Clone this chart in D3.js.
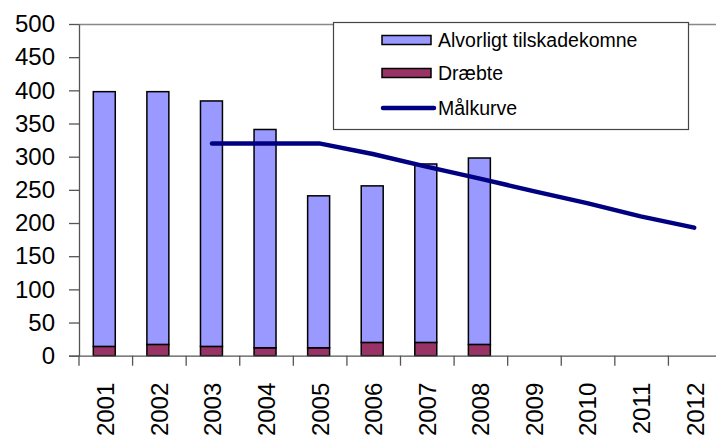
<!DOCTYPE html>
<html>
<head>
<meta charset="utf-8">
<script src="https://cdn.jsdelivr.net/npm/d3@7"></script>
<style>
  body { margin: 0; background: #fff; }
  svg { font-family: "Liberation Sans", Arial, sans-serif; }
</style>
</head>
<body>
<div class="container"></div>
<script>
const years = ["2001", "2002", "2003", "2004", "2005", "2006", "2007", "2008", "2009", "2010", "2011", "2012"];
const killed = [14, 17, 14, 12, 12, 20, 20, 17];
const injured = [384, 381, 370, 329, 229, 236, 269, 281];
const targetYears = ["2003", "2004", "2005", "2006", "2007", "2008", "2009", "2010", "2011", "2012"];
const target = [320, 320, 320, 304, 285, 267, 248, 230, 210, 193];
const yTicks = [0, 50, 100, 150, 200, 250, 300, 350, 400, 450, 500];
const seriesNames = ["Alvorligt tilskadekomne", "Dræbte", "Målkurve"];

const width = 716;
const height = 437;
const margin = { top: 24, left: 79 };
const innerWidth = 643;
const innerHeight = 331.7;

let svg = d3.select(".container").append("svg")
  .attr("width", width).attr("height", height);

let g = svg.append("g")
  .attr("transform", `translate(${margin.left}, ${margin.top})`);

// Scales
let xScale = d3.scaleBand(years, [0, innerWidth]);
let yScale = d3.scaleLinear([0, 500], [innerHeight, 0]);

const barW = xScale.bandwidth() * 0.41;
const barX = (y) => xScale(y) + xScale.bandwidth() / 2 - barW / 2 - 1.5;

// plot frame (top edge)
g.append("line")
  .attr("x1", 0).attr("x2", innerWidth + 10)
  .attr("y1", 0.5).attr("y2", 0.5)
  .attr("stroke", "#888").attr("stroke-width", 1.3);

// Bars: killed on the bottom, seriously injured on top
let rows = killed.map((k, i) => ({ year: years[i], killed: k, injured: injured[i] }));

g.selectAll(".killed")
  .data(rows).enter().append("rect")
  .attr("x", (d) => barX(d.year))
  .attr("width", barW)
  .attr("y", (d) => yScale(d.killed))
  .attr("height", (d) => yScale(0) - yScale(d.killed))
  .attr("fill", "#993366")
  .attr("stroke", "black").attr("stroke-width", 1.5);

g.selectAll(".injured")
  .data(rows).enter().append("rect")
  .attr("x", (d) => barX(d.year))
  .attr("width", barW)
  .attr("y", (d) => yScale(d.killed + d.injured))
  .attr("height", (d) => yScale(d.killed) - yScale(d.killed + d.injured))
  .attr("fill", "#9999FF")
  .attr("stroke", "black").attr("stroke-width", 1.5);

// Target line
let line = d3.line()
  .x((d, i) => xScale(targetYears[i]) + xScale.bandwidth() / 2 - 1)
  .y((d) => yScale(d));

g.append("path")
  .datum(target)
  .attr("d", line)
  .attr("fill", "none")
  .attr("stroke", "#000080")
  .attr("stroke-width", 4.5)
  .attr("stroke-linecap", "round")
  .attr("stroke-linejoin", "round");

// Axes
let yAxis = d3.axisLeft(yScale).tickValues(yTicks).tickSize(10).tickPadding(14).tickSizeOuter(0);
let yG = g.append("g").call(yAxis);
yG.selectAll("text").attr("font-size", 24).attr("fill", "#000").attr("font-family", "Liberation Sans, Arial, sans-serif");
yG.selectAll("line, path").attr("stroke", "#555").attr("stroke-width", 1.3);

let xAxis = d3.axisBottom(xScale).tickSize(0).tickSizeOuter(0).tickPadding(0);
let xG = g.append("g").attr("transform", `translate(0, ${innerHeight})`).call(xAxis);
xG.select("path").attr("stroke", "#555").attr("stroke-width", 1.3)
  .attr("d", `M-10,0.5H${innerWidth + 10}`);
xG.selectAll("text")
  .attr("font-size", 24).attr("fill", "#000")
  .attr("font-family", "Liberation Sans, Arial, sans-serif")
  .attr("text-anchor", "end")
  .attr("transform", "translate(0, 27) rotate(-90)")
  .attr("x", 0).attr("y", 0).attr("dy", "0.35em");

// category boundary ticks
g.append("g").selectAll("line")
  .data(years).enter().append("line")
  .attr("x1", (d) => xScale(d)).attr("x2", (d) => xScale(d))
  .attr("y1", innerHeight).attr("y2", innerHeight + 10)
  .attr("stroke", "#555").attr("stroke-width", 1.3);

// Legend
let legend = svg.append("g").attr("transform", "translate(333, 22)");
legend.append("rect")
  .attr("x", 0.5).attr("y", 0.5).attr("width", 355).attr("height", 107)
  .attr("fill", "white").attr("stroke", "#444").attr("stroke-width", 1.2);

const legendRows = [18, 51, 86];
const fills = ["#9999FF", "#993366"];
seriesNames.forEach((name, i) => {
  let row = legend.append("g").attr("transform", `translate(0, ${legendRows[i]})`);
  if (i < 2) {
    row.append("rect")
      .attr("x", 49).attr("y", -4.5).attr("width", 49).attr("height", 9)
      .attr("fill", fills[i]).attr("stroke", "black").attr("stroke-width", 1.5);
  } else {
    row.append("line")
      .attr("x1", 50).attr("x2", 101).attr("y1", 0).attr("y2", 0)
      .attr("stroke", "#000080").attr("stroke-width", 4.5).attr("stroke-linecap", "round");
  }
  row.append("text")
    .attr("x", 105).attr("y", 0).attr("dy", "0.35em")
    .attr("font-size", 19.5).attr("fill", "#000")
    .text(name);
});
</script>
</body>
</html>
